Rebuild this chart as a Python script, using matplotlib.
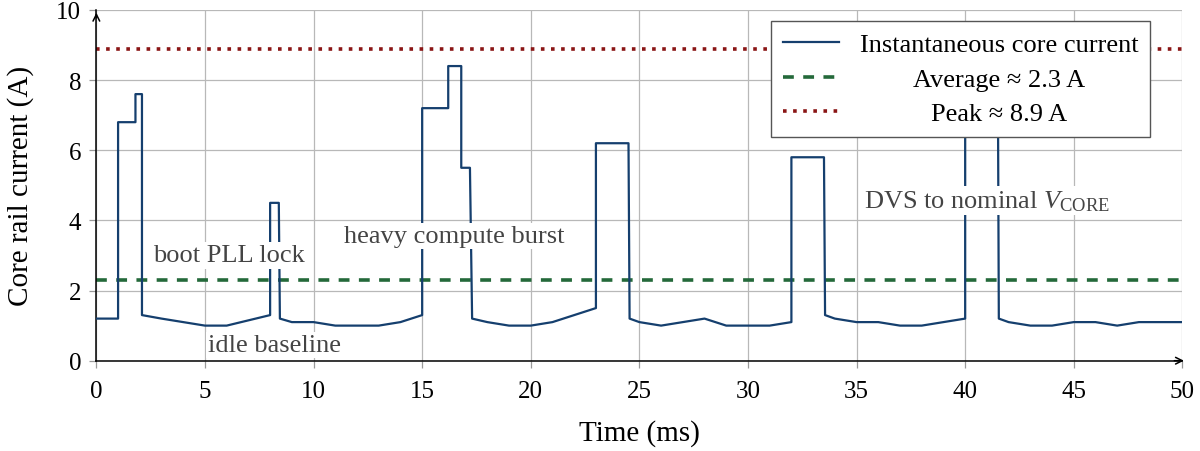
import matplotlib
matplotlib.use("Agg")
import matplotlib.pyplot as plt

# ---------------- data ----------------
time_ms = [0, 1, 1, 1.8, 1.8, 2.1, 2.1, 3, 4, 5, 6, 7, 8, 8, 8.4, 8.45,
           9, 10, 11, 12, 13, 14, 15, 15, 16.2, 16.2, 16.8, 16.8, 17.2, 17.3,
           18, 19, 20, 21, 22, 23, 23, 24.5, 24.55,
           25, 26, 27, 28, 29, 30, 31, 32, 32, 33.5, 33.55,
           34, 35, 36, 37, 38, 39, 40, 40, 41.5, 41.55,
           42, 43, 44, 45, 46, 47, 48, 49, 50]
current_a = [1.2, 1.2, 6.8, 6.8, 7.6, 7.6, 1.3, 1.2, 1.1, 1.0, 1.0, 1.15, 1.3, 4.5, 4.5, 1.2,
             1.1, 1.1, 1.0, 1.0, 1.0, 1.1, 1.3, 7.2, 7.2, 8.4, 8.4, 5.5, 5.5, 1.2,
             1.1, 1.0, 1.0, 1.1, 1.3, 1.5, 6.2, 6.2, 1.2,
             1.1, 1.0, 1.1, 1.2, 1.0, 1.0, 1.0, 1.1, 5.8, 5.8, 1.3,
             1.2, 1.1, 1.1, 1.0, 1.0, 1.1, 1.2, 8.9, 8.9, 1.2,
             1.1, 1.0, 1.0, 1.1, 1.1, 1.0, 1.1, 1.1, 1.1]
avg_current = 2.3
peak_current = 8.9

annotations = [
    ("boot PLL lock", 6.1, 3.0),
    ("idle baseline", 8.2, 0.45),
    ("heavy compute burst", 16.5, 3.55),
    (r"DVS to nominal $V_{\mathrm{CORE}}$", 41.0, 4.57),
]

# ---------------- style ----------------
plt.rcParams["font.family"] = ["Liberation Serif", "DejaVu Serif"]
plt.rcParams["mathtext.fontset"] = "custom"
plt.rcParams["mathtext.rm"] = "Liberation Serif"
plt.rcParams["mathtext.it"] = "Liberation Serif:italic"

line_col = "#153f6e"
avg_col = "#24693a"
peak_col = "#8a1515"
grid_col = "#b8b8b8"

fig = plt.figure(figsize=(12, 4.52), dpi=100)
ax = fig.add_axes([0.0803, 0.1998, 0.905, 0.776])

ax.plot(time_ms, current_a, color=line_col, lw=1.6, label="Instantaneous core current", zorder=3)
ax.axhline(avg_current, color=avg_col, lw=2.6, dashes=(3, 2.6),
           label=f"Average ≈ {avg_current} A", zorder=2)
ax.axhline(peak_current, color=peak_col, lw=2.6, dashes=(1, 1.8),
           label=f"Peak ≈ {peak_current} A", zorder=2)

for txt, x, y in annotations:
    ax.text(x, y, txt, fontsize=19, color="#444444", ha="center", va="center", zorder=4,
            bbox=dict(facecolor="white", edgecolor="none", pad=1.5))

ax.set_xlim(0, 50)
ax.set_ylim(0, 10)
ax.set_xticks(range(0, 51, 5))
ax.set_yticks(range(0, 11, 2))
ax.grid(True, color=grid_col, lw=0.9)
ax.set_axisbelow(True)
ax.tick_params(direction="out", length=5, width=0.9, color="#999999",
               labelsize=18, pad=6)
ax.tick_params(axis="x", pad=9)
ax.spines[["right", "top"]].set_visible(False)
for s in ["left", "bottom"]:
    ax.spines[s].set_linewidth(1.1)

# axis arrows
ax.annotate("", xy=(1.004, 0), xytext=(0.99, 0), xycoords="axes fraction",
            arrowprops=dict(arrowstyle="->", lw=1.1, color="black", mutation_scale=12))
ax.annotate("", xy=(0, 1.0), xytext=(0, 0.97), xycoords="axes fraction",
            arrowprops=dict(arrowstyle="->", lw=1.1, color="black", mutation_scale=12))

ax.set_xlabel("Time (ms)", fontsize=21, labelpad=12)
ax.set_ylabel("Core rail current (A)", fontsize=21, labelpad=16)

leg = ax.legend(loc="upper right", bbox_to_anchor=(0.9705, 0.9686), borderaxespad=0,
                fontsize=19, fancybox=False, framealpha=1, edgecolor="#555555",
                handlelength=2.1, labelspacing=0.42, borderpad=0.45)
leg.get_frame().set_linewidth(1.0)
leg.set_zorder(5)

# centre the legend texts like the reference
fig.canvas.draw()
r = fig.canvas.get_renderer()
widths = [t.get_window_extent(r).width for t in leg.get_texts()]
for t, w in zip(leg.get_texts(), widths):
    t.set_x((max(widths) - w) / 2)

fig.savefig("out.png", dpi=100)
